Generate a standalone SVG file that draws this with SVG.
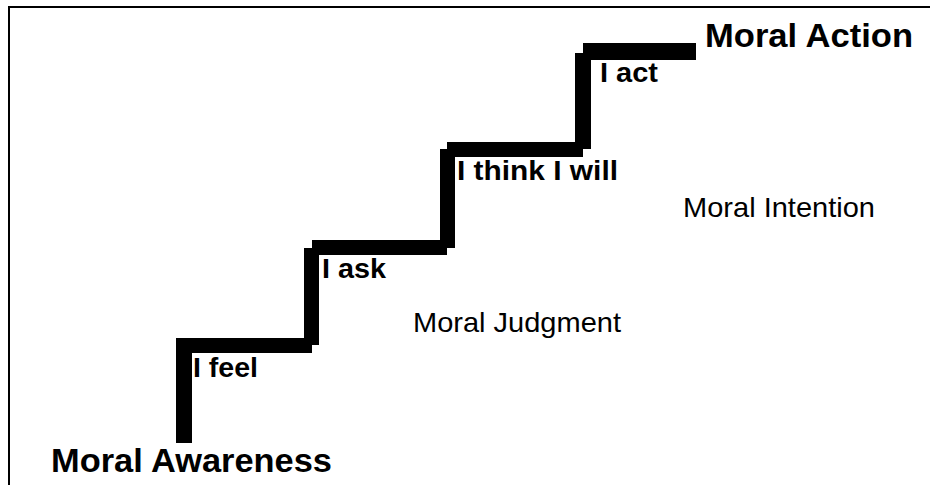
<svg xmlns="http://www.w3.org/2000/svg" width="930" height="485" viewBox="0 0 930 485">
  <style>
    .bar { fill: #000; }
    .big { font-family: "Liberation Sans", Arial, sans-serif; font-weight: bold; font-size: 33px; fill: #000; }
    .step { font-family: "Liberation Sans", Arial, sans-serif; font-weight: bold; font-size: 27px; fill: #000; }
    .reg { font-family: "Liberation Sans", Arial, sans-serif; font-size: 28px; fill: #000; }
  </style>
  <rect x="0" y="0" width="930" height="485" fill="#fff"/>
  <rect x="9" y="7" width="940" height="500" fill="none" stroke="#000" stroke-width="2"/>
  <g id="stairs">
    <rect class="bar" x="176" y="338" width="16" height="105"/>
    <rect class="bar" x="176" y="338" width="136" height="15"/>
    <rect class="bar" x="304" y="248" width="15" height="97"/>
    <rect class="bar" x="312" y="240" width="135" height="15"/>
    <rect class="bar" x="440" y="149" width="15" height="99"/>
    <rect class="bar" x="447" y="142" width="136" height="15"/>
    <rect class="bar" x="575" y="53" width="16" height="96"/>
    <rect class="bar" x="583" y="43" width="113" height="17"/>
  </g>
  <g id="moral-awareness"><text class="big" x="51" y="472" textLength="281" lengthAdjust="spacingAndGlyphs">Moral Awareness</text></g>
  <g id="i-feel"><text class="step" x="193" y="377" textLength="65" lengthAdjust="spacingAndGlyphs">I feel</text></g>
  <g id="i-ask"><text class="step" x="322" y="278" textLength="64" lengthAdjust="spacingAndGlyphs">I ask</text></g>
  <g id="moral-judgment"><text class="reg" x="413" y="332" textLength="208" lengthAdjust="spacingAndGlyphs">Moral Judgment</text></g>
  <g id="i-think-i-will"><text class="step" x="457" y="180" textLength="161" lengthAdjust="spacingAndGlyphs">I think I will</text></g>
  <g id="moral-intention"><text class="reg" x="683" y="217" textLength="192" lengthAdjust="spacingAndGlyphs">Moral Intention</text></g>
  <g id="i-act"><text class="step" x="600" y="82" textLength="58" lengthAdjust="spacingAndGlyphs">I act</text></g>
  <g id="moral-action"><text class="big" x="705" y="47" textLength="208" lengthAdjust="spacingAndGlyphs">Moral Action</text></g>
</svg>
